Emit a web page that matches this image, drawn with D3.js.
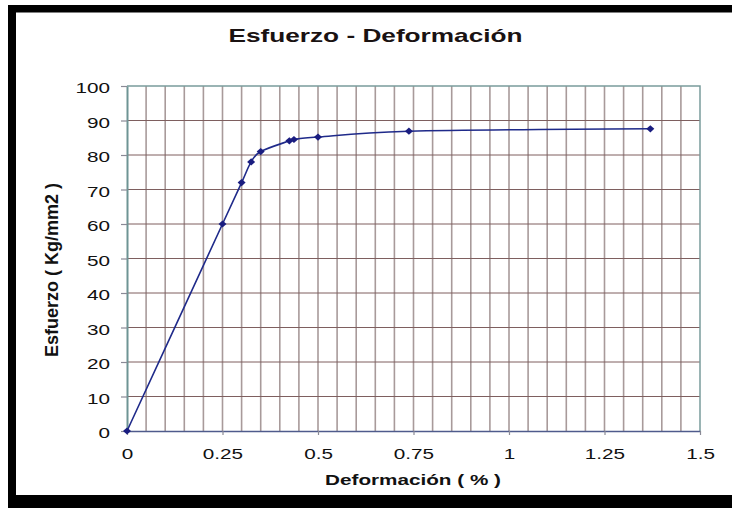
<!DOCTYPE html>
<html>
<head>
<meta charset="utf-8">
<script src="https://cdn.jsdelivr.net/npm/d3@7"></script>
<style>
  html, body { margin: 0; padding: 0; background: #fff; }
  svg { display: block; }
  text { font-family: "Liberation Sans", Arial, sans-serif; }
</style>
</head>
<body>
<script>
// Stress–strain test readings
const strain = [0, 0.25, 0.30, 0.325, 0.35, 0.425, 0.437, 0.50, 0.738, 1.37];
const stress = [0, 60, 72, 78, 81, 84.1, 84.5, 85.2, 86.9, 87.6];

// Axis tick values
const xTicks = [0, 0.25, 0.5, 0.75, 1, 1.25, 1.5];
const yTicks = [0, 10, 20, 30, 40, 50, 60, 70, 80, 90, 100];

const title = "Esfuerzo - Deformación";
const xTitle = "Deformación ( % )";
const yTitle = "Esfuerzo ( Kg/mm2 )";

const W = 732, H = 508;
const plot = { left: 127, right: 700, top: 86, bottom: 431 };
const SX = 1.38; // horizontal widening of the chart's lettering

const svg = d3.select("body").append("svg")
  .attr("width", W).attr("height", H);

svg.append("rect").attr("width", W).attr("height", H).attr("fill", "#fff");

// black frame (top, left, bottom)
svg.append("rect").attr("x", 8).attr("y", 5).attr("width", W - 8).attr("height", 7.5).attr("fill", "#000");
svg.append("rect").attr("x", 8).attr("y", 5).attr("width", 8).attr("height", H - 5).attr("fill", "#000");
svg.append("rect").attr("x", 8).attr("y", 495).attr("width", W - 8).attr("height", H - 495).attr("fill", "#000");

const x = d3.scaleLinear().domain([0, 1.5]).range([plot.left, plot.right]);
const y = d3.scaleLinear().domain([0, 100]).range([plot.bottom, plot.top]);

// vertical grid every 0.05
svg.append("g").selectAll("line")
  .data(x.ticks(30).filter(d => d > 0 && d < 1.5))
  .join("line")
  .attr("x1", d => x(d)).attr("x2", d => x(d))
  .attr("y1", plot.top).attr("y2", plot.bottom)
  .attr("stroke", "#a89a9a").attr("stroke-width", 1.6);

// horizontal grid
svg.append("g").selectAll("line")
  .data(yTicks.filter(d => d > 0 && d < 100))
  .join("line")
  .attr("x1", plot.left).attr("x2", plot.right)
  .attr("y1", d => y(d)).attr("y2", d => y(d))
  .attr("stroke", "#7e5f5f").attr("stroke-width", 1);

// plot border (top + right)
svg.append("path")
  .attr("d", `M${plot.left},${plot.top}H${plot.right}V${plot.bottom}`)
  .attr("fill", "none").attr("stroke", "#7a9c9c").attr("stroke-width", 1.5);

// x axis
const gx = svg.append("g").attr("transform", `translate(0,${plot.bottom})`)
  .call(d3.axisBottom(x).tickValues(xTicks).tickSize(4).tickSizeOuter(0).tickPadding(0).tickFormat(d3.format("")));
gx.select(".domain").attr("stroke", "#4f5b8c").attr("stroke-width", 1.5);
gx.selectAll(".tick line").attr("stroke", "#8a8a96").attr("stroke-width", 1.2);
gx.selectAll(".tick text")
  .attr("y", 0).attr("dy", 0)
  .attr("font-size", 15).attr("fill", "#111")
  .attr("transform", `translate(0,28) scale(${SX},1)`);

// y axis
const gy = svg.append("g").attr("transform", `translate(${plot.left},0)`)
  .call(d3.axisLeft(y).tickValues(yTicks).tickSize(6).tickSizeOuter(0).tickPadding(0));
gy.select(".domain").attr("stroke", "#6e9494").attr("stroke-width", 2);
gy.selectAll(".tick line").attr("stroke", "#8a8a96").attr("stroke-width", 1.2);
gy.selectAll(".tick text")
  .attr("x", 0).attr("dy", 0)
  .attr("font-size", 15).attr("fill", "#111")
  .attr("transform", `translate(-17,6.5) scale(${SX},1)`);

// stress–strain curve
const pts = strain.map((s, i) => [s, stress[i]]);
svg.append("path")
  .datum(pts)
  .attr("d", d3.line().x(d => x(d[0])).y(d => y(d[1])).curve(d3.curveCardinal.tension(0)))
  .attr("fill", "none").attr("stroke", "#1f2a8a").attr("stroke-width", 1.6);

// diamond markers
svg.append("g").selectAll("path")
  .data(pts)
  .join("path")
  .attr("transform", d => `translate(${x(d[0])},${y(d[1])})`)
  .attr("d", "M0,-3.6L4,0L0,3.6L-4,0Z")
  .attr("fill", "#1a1d80");

// titles
svg.append("text")
  .attr("transform", `translate(375.5,41.7) scale(${SX},1)`)
  .attr("text-anchor", "middle").attr("font-size", 19).attr("font-weight", "bold")
  .attr("fill", "#1a1212").text(title);

svg.append("text")
  .attr("transform", `translate(413,485) scale(${SX},1)`)
  .attr("text-anchor", "middle").attr("font-size", 15).attr("font-weight", "bold")
  .attr("fill", "#111").text(xTitle);

svg.append("text")
  .attr("transform", "translate(58,270) rotate(-90)")
  .attr("text-anchor", "middle").attr("font-size", 18).attr("font-weight", "bold")
  .attr("fill", "#111").text(yTitle);
</script>
</body>
</html>
